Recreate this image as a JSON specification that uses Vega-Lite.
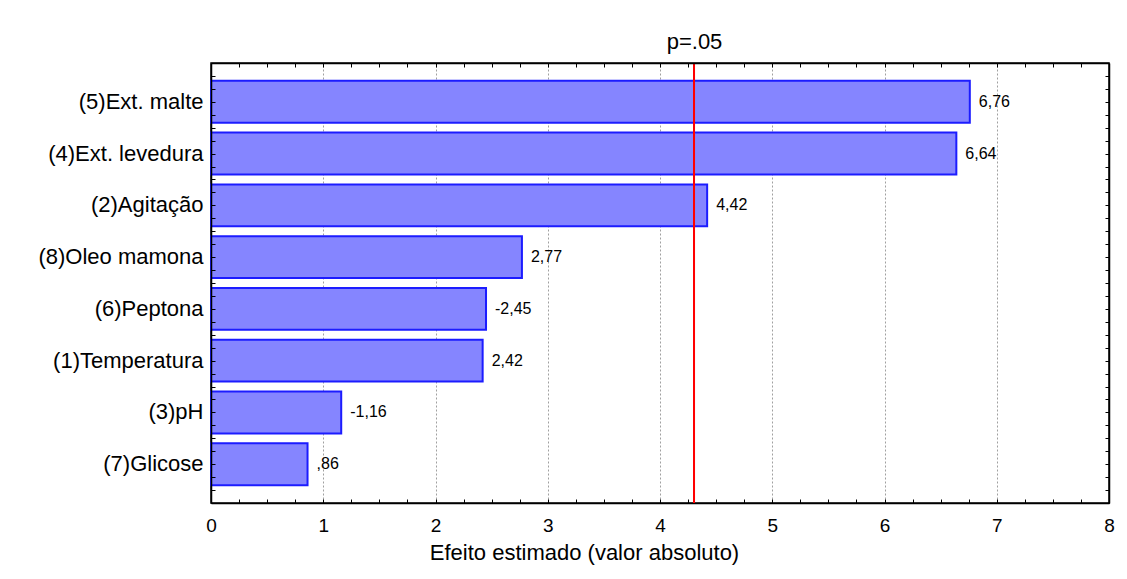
{
  "$schema": "https://vega.github.io/schema/vega-lite/v6.json",
  "width": 898,
  "height": 440,
  "autosize": {"type": "none"},
  "padding": {"left": 211, "top": 63, "right": 18, "bottom": 76},
  "background": "white",
  "config": {
    "font": "Liberation Sans",
    "locale": {"number": {"decimal": ",", "thousands": ".", "grouping": [3], "currency": ["", ""], "minus": "-"}},
    "view": {"stroke": "black", "strokeWidth": 1.5},
    "axis": {"labelColor": "black", "titleColor": "black", "tickColor": "black", "domainColor": "black", "domainWidth": 1.5, "tickWidth": 1}
  },
  "datasets": {
    "efeitos": [
      {"fator": "(5)Ext. malte", "efeito": 6.76},
      {"fator": "(4)Ext. levedura", "efeito": 6.64},
      {"fator": "(2)Agitação", "efeito": 4.42},
      {"fator": "(8)Oleo mamona", "efeito": 2.77},
      {"fator": "(6)Peptona", "efeito": -2.45},
      {"fator": "(1)Temperatura", "efeito": 2.42},
      {"fator": "(3)pH", "efeito": -1.16},
      {"fator": "(7)Glicose", "efeito": 0.86}
    ],
    "limite": [
      {"valor": 4.303, "rotulo": "p=.05"}
    ]
  },
  "resolve": {
    "scale": {"y": "independent"},
    "axis": {"x": "independent", "y": "independent"}
  },
  "layer": [
    {
      "data": {"name": "efeitos"},
      "transform": [{"calculate": "abs(datum.efeito)", "as": "absoluto"}],
      "mark": {"type": "bar", "fill": "#8585ff", "stroke": "#1c1cff", "strokeWidth": 2},
      "encoding": {
        "y": {
          "field": "fator", "type": "nominal", "sort": null,
          "scale": {"paddingInner": 0.19, "paddingOuter": 0.345},
          "axis": {"orient": "left", "title": null, "ticks": false, "domain": true, "zindex": 1, "labelFontSize": 22, "labelPadding": 8, "labelLimit": 300}
        },
        "x": {
          "field": "absoluto", "type": "quantitative",
          "scale": {"domain": [0, 8], "nice": false},
          "axis": {
            "orient": "bottom",
            "values": [0,0.25,0.5,0.75,1,1.25,1.5,1.75,2,2.25,2.5,2.75,3,3.25,3.5,3.75,4,4.25,4.5,4.75,5,5.25,5.5,5.75,6,6.25,6.5,6.75,7,7.25,7.5,7.75,8],
            "labelExpr": "datum.value % 1 === 0 ? format(datum.value, 'd') : ''",
            "labelOverlap": false, "labelFlush": false,
            "labelFontSize": 19, "labelPadding": 17,
            "tickSize": -4,
            "grid": true, "gridColor": "#a0a0a0", "gridDash": [2, 2], "gridWidth": 1,
            "gridOpacity": {"condition": {"test": "datum.value % 1 !== 0 || datum.value === 0 || datum.value === 8", "value": 0}, "value": 1},
            "title": "Efeito estimado (valor absoluto)",
            "titleFontSize": 22, "titleFontWeight": "normal",
            "titleX": 373, "titleY": 39, "titleAlign": "center", "titleBaseline": "top"
          }
        }
      }
    },
    {
      "data": {"name": "efeitos"},
      "transform": [
        {"calculate": "abs(datum.efeito)", "as": "absoluto"},
        {"calculate": "replace(format(datum.efeito, '.2f'), '0,', ',')", "as": "rotulo"}
      ],
      "mark": {"type": "text", "align": "left", "baseline": "middle", "dx": 9, "fontSize": 16, "color": "black"},
      "encoding": {
        "y": {"field": "fator", "type": "nominal", "sort": null, "scale": {"type": "point", "padding": 0.75}, "axis": null},
        "x": {"field": "absoluto", "type": "quantitative", "scale": {"domain": [0, 8], "nice": false}, "axis": null},
        "text": {"field": "rotulo"}
      }
    },
    {
      "data": {"name": "limite"},
      "mark": {"type": "rule", "color": "#ff0000", "strokeWidth": 2},
      "encoding": {
        "x": {
          "field": "valor", "type": "quantitative",
          "scale": {"domain": [0, 8], "nice": false},
          "axis": {
            "orient": "top", "title": null, "zindex": 1,
            "values": [0.25,0.5,0.75,1,1.25,1.5,1.75,2,2.25,2.5,2.75,3,3.25,3.5,3.75,4,4.25,4.303,4.5,4.75,5,5.25,5.5,5.75,6,6.25,6.5,6.75,7,7.25,7.5,7.75],
            "labelExpr": "abs(datum.value - 4.303) < 0.001 ? 'p=.05' : ''",
            "labelOverlap": false, "labelFlush": false, "labelBound": false,
            "labelFontSize": 22, "labelPadding": 14,
            "tickSize": -4,
            "tickOpacity": {"condition": {"test": "abs(datum.value - 4.303) < 0.001", "value": 0}, "value": 1},
            "grid": false
          }
        },
        "y": {
          "datum": 0, "type": "quantitative",
          "scale": {"domain": [0, 8.5], "nice": false, "zero": false},
          "axis": {
            "orient": "left", "title": null, "labels": false, "domain": false, "grid": false, "zindex": 1,
            "values": [0.25,0.5,0.75,1,1.25,1.5,1.75,2,2.25,2.5,2.75,3,3.25,3.5,3.75,4,4.25,4.5,4.75,5,5.25,5.5,5.75,6,6.25,6.5,6.75,7,7.25,7.5,7.75,8,8.25],
            "tickSize": -4
          }
        },
        "y2": {"datum": 8.5}
      }
    },
    {
      "data": {"name": "limite"},
      "mark": {"type": "rule", "color": "#ff0000", "strokeWidth": 2},
      "encoding": {
        "x": {"field": "valor", "type": "quantitative", "scale": {"domain": [0, 8], "nice": false}, "axis": null},
        "y": {
          "datum": 0, "type": "quantitative",
          "scale": {"domain": [0, 8.5], "nice": false, "zero": false},
          "axis": {
            "orient": "right", "title": null, "labels": false, "domain": true, "grid": false, "zindex": 1,
            "values": [0.25,0.5,0.75,1,1.25,1.5,1.75,2,2.25,2.5,2.75,3,3.25,3.5,3.75,4,4.25,4.5,4.75,5,5.25,5.5,5.75,6,6.25,6.5,6.75,7,7.25,7.5,7.75,8,8.25],
            "tickSize": -4
          }
        },
        "y2": {"datum": 8.5}
      }
    }
  ]
}
